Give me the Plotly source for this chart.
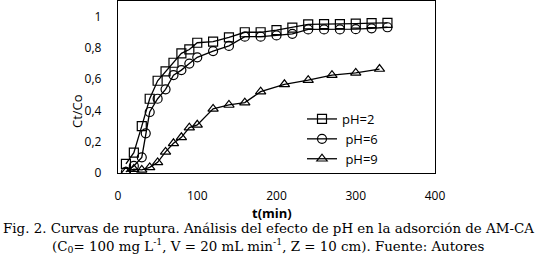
import plotly.graph_objects as go

# Data
t_ph2 = [10, 20, 30, 40, 50, 60, 70, 80, 90, 100, 120, 140, 160, 180, 200, 220, 240, 260, 280, 300, 320, 340]
v_ph2 = [0.058, 0.13, 0.30, 0.475, 0.59, 0.65, 0.705, 0.765, 0.79, 0.833, 0.84, 0.867, 0.90, 0.90, 0.914, 0.93, 0.95, 0.952, 0.952, 0.955, 0.958, 0.96]

t_ph6 = [10, 20, 30, 35, 40, 50, 60, 70, 80, 90, 100, 120, 140, 160, 180, 200, 220, 240, 260, 280, 300, 320, 340]
v_ph6 = [0.008, 0.045, 0.10, 0.254, 0.39, 0.475, 0.535, 0.626, 0.658, 0.70, 0.74, 0.78, 0.813, 0.872, 0.872, 0.88, 0.89, 0.918, 0.918, 0.918, 0.92, 0.925, 0.932]

t_ph9 = [10, 20, 30, 40, 50, 60, 70, 80, 90, 100, 120, 140, 160, 180, 210, 240, 270, 300, 330]
v_ph9 = [0.008, 0.025, 0.02, 0.036, 0.068, 0.135, 0.19, 0.228, 0.29, 0.308, 0.41, 0.435, 0.45, 0.52, 0.567, 0.594, 0.626, 0.64, 0.665]

names = ["pH=2", " pH=6", " pH=9"]
symbols = ["square-open", "circle-open", "triangle-up-open"]

x_ticks = [0, 100, 200, 300, 400]
y_ticks = [0, 0.2, 0.4, 0.6, 0.8, 1]
y_tick_labels = ["0", "0,2", "0,4", "0,6", "0,8", "1"]

W, H = 550, 256
L, R, T, B = 118, 435, 1, 173


def px(x, y):
    return (x - L) / (R - L), (B - y) / (B - T)


fig = go.Figure()
for tx, vy, nm, sym in zip([t_ph2, t_ph6, t_ph9], [v_ph2, v_ph6, v_ph9], names, symbols):
    fig.add_trace(go.Scatter(
        x=tx, y=vy, name=nm, mode="lines+markers",
        line=dict(color="black", width=1.3),
        marker=dict(symbol=sym, size=9, color="black", line=dict(width=1.2, color="black")),
    ))

font_ax = "Open Sans, Liberation Sans, sans-serif"
fig.update_layout(
    width=W, height=H,
    margin=dict(l=L, r=W - R, t=T, b=H - B),
    paper_bgcolor="white", plot_bgcolor="white",
    showlegend=True,
    legend=dict(x=px(302, 0)[0], y=px(0, 104)[1], xanchor="left", yanchor="top",
                bgcolor="rgba(0,0,0,0)", font=dict(family=font_ax, size=13, color="black"),
                tracegroupgap=0, itemwidth=30),
    font=dict(family=font_ax, size=12, color="black"),
)
fig.update_xaxes(range=[0, 400], tickvals=x_ticks, ticktext=[str(v) for v in x_ticks],
                 showgrid=False, zeroline=False, showline=True, linecolor="black", linewidth=1.3,
                 mirror=True, ticks="", ticklabelstandoff=11, tickfont=dict(size=12, family=font_ax))
fig.update_yaxes(range=[0, 1.1], tickvals=y_ticks, ticktext=y_tick_labels,
                 showgrid=False, zeroline=False, showline=True, linecolor="black", linewidth=1.3,
                 mirror=True, ticks="", ticklabelstandoff=13, tickfont=dict(size=12, family=font_ax))


def label(text, x, y, size, family, angle=0):
    ax, ay = px(x, y)
    fig.add_annotation(text=text, x=ax, y=ay, xref="paper", yref="paper", showarrow=False,
                       xanchor="center", yanchor="middle", textangle=angle,
                       font=dict(size=size, family=family, color="black"))


label("Ct/Co", 77, 111, 13, font_ax, -90)
label("<b>t(min)</b>", 272, 213, 13, font_ax)

serif = "DejaVu Serif, serif"
label("Fig. 2. Curvas de ruptura. Análisis del efecto de pH en la adsorción de AM-CA", 268, 228, 13.4, serif)
label("(C<sub>0</sub>= 100 mg L<sup>-1</sup>, V = 20 mL min<sup>-1</sup>, Z = 10 cm). Fuente: Autores", 268, 245, 13.4, serif)

fig.write_html("out.html", config={"displayModeBar": False},
               post_script="document.body.style.margin='0px';")
